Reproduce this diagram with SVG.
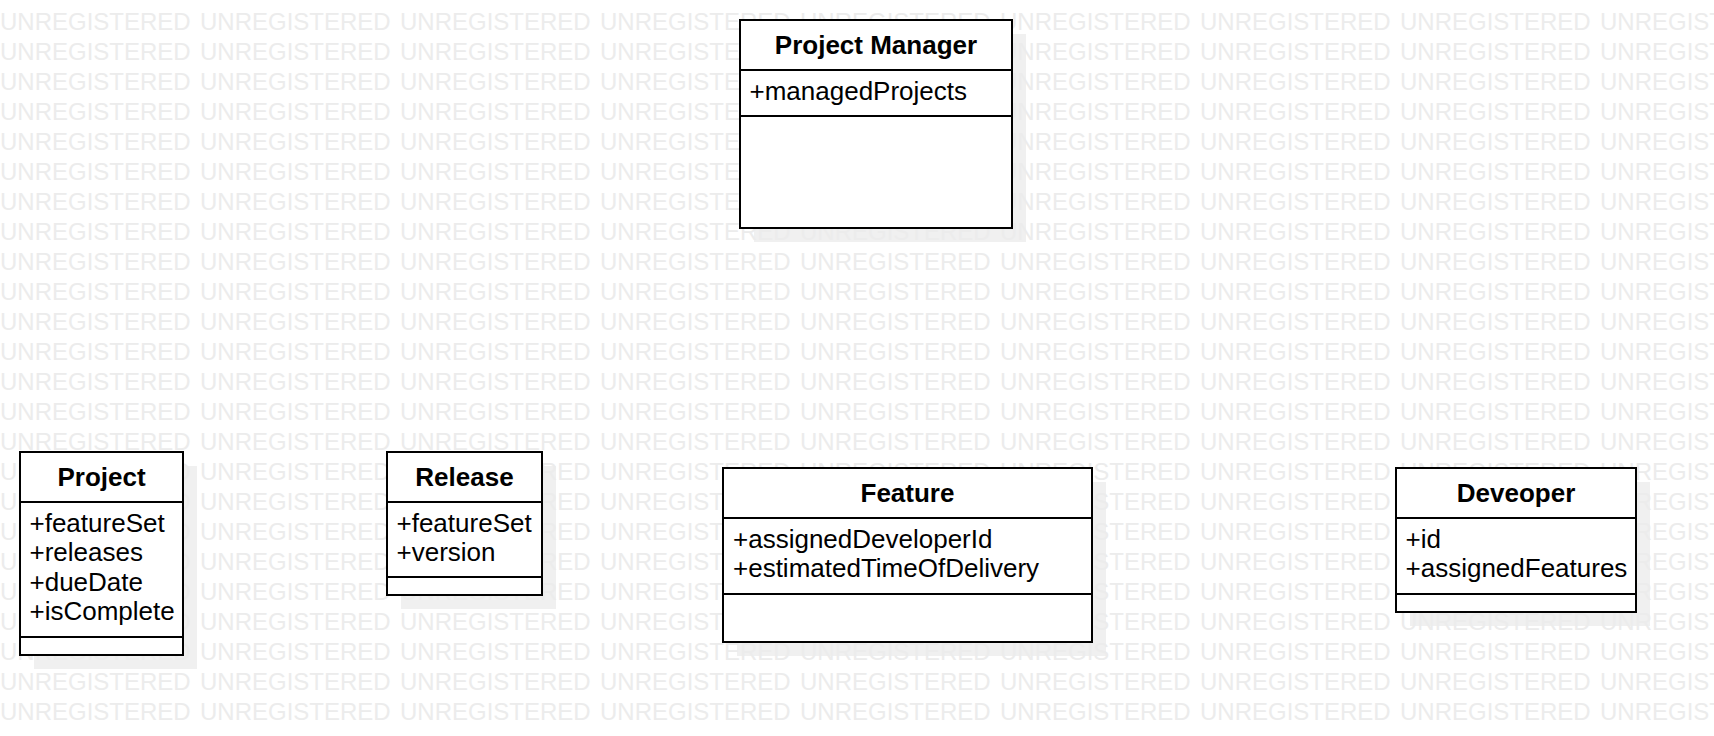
<svg xmlns="http://www.w3.org/2000/svg" xmlns:xlink="http://www.w3.org/1999/xlink" width="1714" height="736" viewBox="0 0 1714 736">
<style>
.wm{font-family:"Liberation Sans",Arial,sans-serif;font-size:24px;fill:#ececec}
.shadow{fill:#f0f0f0}
.box{fill:#ffffff;stroke:#000000;stroke-width:2}
.div{stroke:#000000;stroke-width:2}
.title{font-family:"Liberation Sans",Arial,sans-serif;font-size:26px;font-weight:bold;fill:#000000;text-anchor:middle}
.attr{font-family:"Liberation Sans",Arial,sans-serif;font-size:26px;fill:#000000}
</style>
<defs>
<text id="wmrow" class="wm" y="0"><tspan x="0">UNREGISTERED</tspan><tspan x="200">UNREGISTERED</tspan><tspan x="400">UNREGISTERED</tspan><tspan x="600">UNREGISTERED</tspan><tspan x="800">UNREGISTERED</tspan><tspan x="1000">UNREGISTERED</tspan><tspan x="1200">UNREGISTERED</tspan><tspan x="1400">UNREGISTERED</tspan><tspan x="1600">UNREGISTERED</tspan></text>
</defs>
<rect width="1714" height="736" fill="#ffffff"/>
<g id="shadows">
<rect class="shadow" x="754" y="34" width="272" height="208"/>
<rect class="shadow" x="34" y="466" width="163" height="203"/>
<rect class="shadow" x="401" y="466" width="155" height="143"/>
<rect class="shadow" x="737" y="482" width="369" height="174"/>
<rect class="shadow" x="1410" y="482" width="240" height="144"/>
</g>
<g id="watermark">
<use xlink:href="#wmrow" y="0"/><use xlink:href="#wmrow" y="30"/><use xlink:href="#wmrow" y="60"/><use xlink:href="#wmrow" y="90"/><use xlink:href="#wmrow" y="120"/><use xlink:href="#wmrow" y="150"/><use xlink:href="#wmrow" y="180"/><use xlink:href="#wmrow" y="210"/><use xlink:href="#wmrow" y="240"/><use xlink:href="#wmrow" y="270"/><use xlink:href="#wmrow" y="300"/><use xlink:href="#wmrow" y="330"/><use xlink:href="#wmrow" y="360"/><use xlink:href="#wmrow" y="390"/><use xlink:href="#wmrow" y="420"/><use xlink:href="#wmrow" y="450"/><use xlink:href="#wmrow" y="480"/><use xlink:href="#wmrow" y="510"/><use xlink:href="#wmrow" y="540"/><use xlink:href="#wmrow" y="570"/><use xlink:href="#wmrow" y="600"/><use xlink:href="#wmrow" y="630"/><use xlink:href="#wmrow" y="660"/><use xlink:href="#wmrow" y="690"/><use xlink:href="#wmrow" y="720"/>
</g>
<g id="connectors"></g>
<g id="projectManager">
<rect class="box" x="740" y="20" width="272" height="208"/>
<line class="div" x1="740" y1="70" x2="1012" y2="70"/>
<line class="div" x1="740" y1="116" x2="1012" y2="116"/>
<text class="title" x="876" y="53.5">Project Manager</text>
<text class="attr" x="749.5" y="99.5">+managedProjects</text>
</g>
<g id="project">
<rect class="box" x="20" y="452" width="163" height="203"/>
<line class="div" x1="20" y1="502" x2="183" y2="502"/>
<line class="div" x1="20" y1="637" x2="183" y2="637"/>
<text class="title" x="101.5" y="486">Project</text>
<text class="attr" x="29.5" y="531.5">+featureSet</text>
<text class="attr" x="29.5" y="561">+releases</text>
<text class="attr" x="29.5" y="590.5">+dueDate</text>
<text class="attr" x="29.5" y="620">+isComplete</text>
</g>
<g id="release">
<rect class="box" x="387" y="452" width="155" height="143"/>
<line class="div" x1="387" y1="502" x2="542" y2="502"/>
<line class="div" x1="387" y1="577" x2="542" y2="577"/>
<text class="title" x="464.5" y="486">Release</text>
<text class="attr" x="396.5" y="531.5">+featureSet</text>
<text class="attr" x="396.5" y="561">+version</text>
</g>
<g id="feature">
<rect class="box" x="723" y="468" width="369" height="174"/>
<line class="div" x1="723" y1="518" x2="1092" y2="518"/>
<line class="div" x1="723" y1="594" x2="1092" y2="594"/>
<text class="title" x="907.5" y="501.5">Feature</text>
<text class="attr" x="733" y="547.5">+assignedDeveloperId</text>
<text class="attr" x="733" y="577">+estimatedTimeOfDelivery</text>
</g>
<g id="developer">
<rect class="box" x="1396" y="468" width="240" height="144"/>
<line class="div" x1="1396" y1="518" x2="1636" y2="518"/>
<line class="div" x1="1396" y1="594" x2="1636" y2="594"/>
<text class="title" x="1516" y="501.5">Deveoper</text>
<text class="attr" x="1405.5" y="547.5">+id</text>
<text class="attr" x="1405.5" y="577">+assignedFeatures</text>
</g>
</svg>
